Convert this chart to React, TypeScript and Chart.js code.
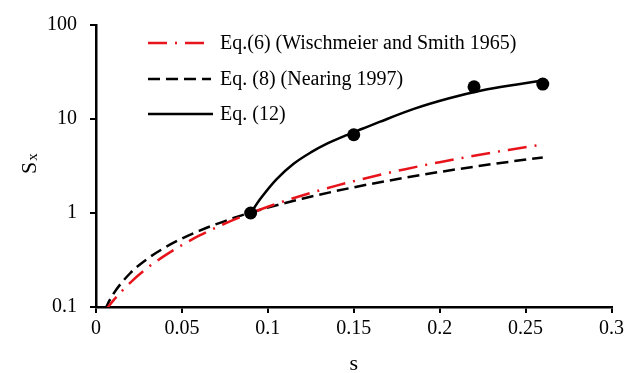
import { useEffect, useRef } from "react";
import { Chart, registerables } from "chart.js";

Chart.register(...registerables);

// Slope values (s) used for the two empirical curves
const slopeGrid = [0.005, 0.01, 0.02, 0.03, 0.04, 0.05, 0.06, 0.07, 0.08, 0.09, 0.1, 0.12, 0.14, 0.15, 0.16, 0.18, 0.2, 0.22, 0.24, 0.26];
// Eq.(6) Wischmeier and Smith 1965
const eq6Values = [0.089, 0.117, 0.182, 0.261, 0.352, 0.456, 0.573, 0.702, 0.845, 0.999, 1.166, 1.537, 1.955, 2.181, 2.418, 2.926, 3.475, 4.065, 4.692, 5.354];
// Eq.(8) Nearing 1997
const eq8Values = [0.093, 0.137, 0.23, 0.327, 0.428, 0.535, 0.646, 0.762, 0.884, 1.01, 1.141, 1.42, 1.719, 1.876, 2.038, 2.377, 2.734, 3.108, 3.497, 3.898];
// Eq.(12)
const eq12Slopes = [0.09, 0.096, 0.105, 0.115, 0.125, 0.135, 0.145, 0.155, 0.165, 0.185, 0.205, 0.225, 0.245, 0.26];
const eq12Values = [1.0, 1.44, 2.28, 3.34, 4.41, 5.53, 6.65, 7.87, 9.3, 12.8, 16.5, 20.2, 23.3, 25.7];
// Measured points
const measuredSlopes = [0.09, 0.15, 0.22, 0.26];
const measuredValues = [1.0, 6.8, 22.0, 23.5];

const xTickValues = [0, 0.05, 0.1, 0.15, 0.2, 0.25, 0.3];
const xTickLabels = ["0", "0.05", "0.1", "0.15", "0.2", "0.25", "0.3"];
const yTickValues = [0.1, 1, 10, 100];
const yTickLabels = ["0.1", "1", "10", "100"];
const legendLabels = ["Eq.(6) (Wischmeier and Smith 1965)", "Eq. (8) (Nearing 1997)", "Eq. (12)"];
const xTitle = "s";
const yTitleMain = "S";
const yTitleSub = "x";

const FONT = "'Liberation Serif', 'Times New Roman', serif";

function lookup(values: number[], labels: string[], v: number) {
  for (let i = 0; i < values.length; i++) {
    if (Math.abs(values[i] - v) < 1e-9 * Math.max(1, Math.abs(v)) + 1e-9) return labels[i];
  }
  return "";
}

const overlayPlugin = {
  id: "overlay",
  afterDraw(chart: any) {
    const ctx = chart.ctx;
    const area = chart.chartArea;
    ctx.save();
    // legend
    const rows = [43, 79, 114];
    const lineEnds = [205, 211, 213];
    for (let i = 0; i < 3; i++) {
      const ds = chart.data.datasets[i];
      ctx.beginPath();
      ctx.setLineDash(ds.borderDash || []);
      ctx.strokeStyle = ds.borderColor;
      ctx.lineWidth = ds.borderWidth;
      ctx.moveTo(148, rows[i]);
      ctx.lineTo(lineEnds[i], rows[i]);
      ctx.stroke();
      ctx.setLineDash([]);
      ctx.fillStyle = "#000";
      ctx.font = `20px ${FONT}`;
      ctx.textAlign = "left";
      ctx.textBaseline = "middle";
      ctx.fillText(legendLabels[i], 220, rows[i] + 1);
    }
    // x title
    ctx.fillStyle = "#000";
    ctx.font = `22px ${FONT}`;
    ctx.textAlign = "center";
    ctx.textBaseline = "alphabetic";
    ctx.fillText(xTitle, (area.left + area.right) / 2, 370);
    // y title with subscript
    ctx.translate(36, 174);
    ctx.rotate(-Math.PI / 2);
    ctx.textAlign = "left";
    ctx.font = `22px ${FONT}`;
    ctx.fillText(yTitleMain, 0, 0);
    const w = ctx.measureText(yTitleMain).width;
    ctx.font = `15px ${FONT}`;
    ctx.fillText(yTitleSub, w + 1, 1);
    ctx.restore();
  },
};

export default function App() {
  const ref = useRef<HTMLCanvasElement | null>(null);
  useEffect(() => {
    if (!ref.current) return;
    const chart = new Chart(ref.current, {
      type: "scatter",
      data: {
        datasets: [
          {
            label: legendLabels[0],
            data: slopeGrid.map((s, i) => ({ x: s, y: eq6Values[i] })),
            showLine: true,
            borderColor: "#e8141c",
            backgroundColor: "#e8141c",
            borderWidth: 2.5,
            borderDash: [19, 8, 2, 8],
            pointRadius: 0,
            tension: 0.4,
            cubicInterpolationMode: "monotone",
          } as any,
          {
            label: legendLabels[1],
            data: slopeGrid.map((s, i) => ({ x: s, y: eq8Values[i] })),
            showLine: true,
            borderColor: "#000",
            backgroundColor: "#000",
            borderWidth: 2.5,
            borderDash: [12, 6],
            pointRadius: 0,
            cubicInterpolationMode: "monotone",
          } as any,
          {
            label: legendLabels[2],
            data: eq12Slopes.map((s, i) => ({ x: s, y: eq12Values[i] })),
            showLine: true,
            borderColor: "#000",
            backgroundColor: "#000",
            borderWidth: 2.5,
            pointRadius: 0,
            cubicInterpolationMode: "monotone",
          } as any,
          {
            label: "data",
            data: measuredSlopes.map((s, i) => ({ x: s, y: measuredValues[i] })),
            showLine: false,
            pointRadius: 6.5,
            pointBackgroundColor: "#000",
            pointBorderWidth: 0,
            clip: false,
            order: -1,
          } as any,
        ],
      },
      options: {
        responsive: false,
        animation: false,
        devicePixelRatio: 1,
        layout: { padding: { top: 23, right: 14, left: 0, bottom: 0 } },
        plugins: {
          legend: { display: false },
          tooltip: { enabled: false },
          title: { display: false },
        },
        scales: {
          x: {
            type: "linear",
            min: 0,
            max: 0.3,
            afterBuildTicks: (s: any) => {
              s.ticks = xTickValues.map((v) => ({ value: v }));
            },
            afterFit: (s: any) => {
              s.height = 66;
            },
            ticks: {
              callback: (v: any) => lookup(xTickValues, xTickLabels, Number(v)),
              font: { family: FONT, size: 20 },
              color: "#000",
              padding: 4,
              maxRotation: 0,
              autoSkip: false,
            },
            grid: { drawOnChartArea: false, drawTicks: true, tickLength: 6, color: "#000", lineWidth: 2 },
            border: { display: true, color: "#000", width: 2.5 },
          },
          y: {
            type: "logarithmic",
            min: 0.1,
            max: 100,
            afterBuildTicks: (s: any) => {
              s.ticks = yTickValues.map((v) => ({ value: v, major: true }));
            },
            afterFit: (s: any) => {
              s.width = 96;
            },
            ticks: {
              callback: (v: any) => lookup(yTickValues, yTickLabels, Number(v)),
              font: { family: FONT, size: 20 },
              color: "#000",
              padding: 13,
              autoSkip: false,
            },
            grid: { drawOnChartArea: false, drawTicks: true, tickLength: 6, color: "#000", lineWidth: 2 },
            border: { display: true, color: "#000", width: 2.5 },
          },
        },
      } as any,
      plugins: [overlayPlugin],
    });
    return () => chart.destroy();
  }, []);
  return (
    <div style={{ position: "fixed", left: 0, top: 0, width: 628, height: 373, background: "#fff" }}>
      <canvas ref={ref} width={628} height={373} style={{ width: 628, height: 373, display: "block" }} />
    </div>
  );
}
